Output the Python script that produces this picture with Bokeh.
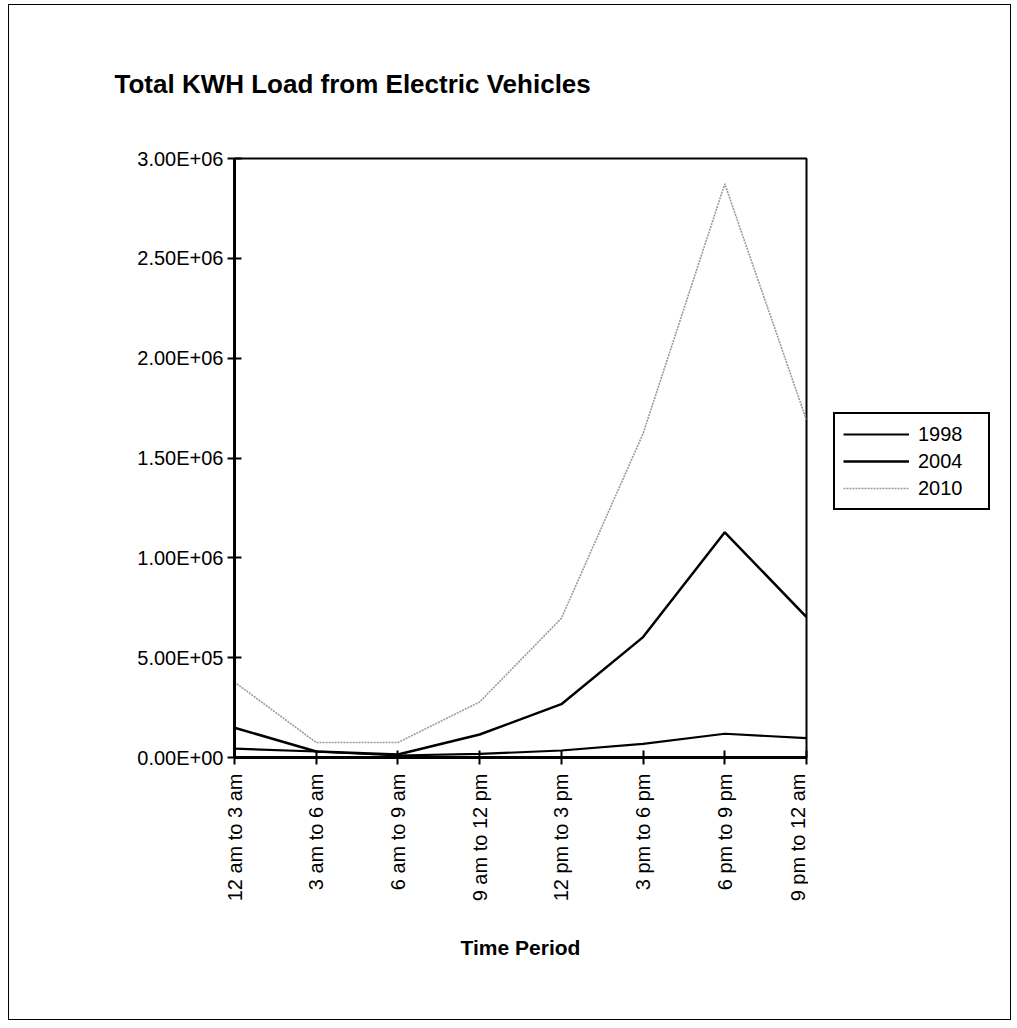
import math
from bokeh.plotting import figure
from bokeh.layouts import row
from bokeh.models import Range1d, FixedTicker, Legend, LegendItem, Title
from bokeh.embed import file_html
from bokeh.resources import INLINE

periods = ["12 am to 3 am", "3 am to 6 am", "6 am to 9 am", "9 am to 12 pm",
           "12 pm to 3 pm", "3 pm to 6 pm", "6 pm to 9 pm", "9 pm to 12 am"]
load_1998 = [44000, 30000, 10000, 18000, 35000, 68000, 119000, 97000]
load_2004 = [149000, 30000, 15000, 115000, 267000, 603000, 1128000, 703000]
load_2010 = [378000, 75000, 75000, 278000, 697000, 1622000, 2873000, 1690000]
y_ticks = [0, 500000, 1000000, 1500000, 2000000, 2500000, 3000000]
series_names = ["1998", "2004", "2010"]

FONT = "Liberation Sans"
xs = list(range(len(periods)))
series = [load_1998, load_2004, load_2010]
styles = [dict(line_color="black", line_width=2.2),
          dict(line_color="black", line_width=2.5),
          dict(line_color="#9a9a9a", line_width=1.6, line_dash="2 1")]

p = figure(width=799, height=1014, output_backend="svg", toolbar_location=None,
           x_range=Range1d(0, len(periods) - 1), y_range=Range1d(0, 3000000),
           min_border_left=225, min_border_right=2, min_border_top=153,
           min_border_bottom=262)

p.title = Title(text="Total KWH Load from Electric Vehicles", align="left",
                text_font=FONT, text_font_size="26px", text_font_style="bold",
                text_color="black", offset=-120, standoff=120)

p.xgrid.visible = False
p.ygrid.visible = False
p.outline_line_color = "black"
p.outline_line_width = 2

# y axis
p.yaxis.ticker = FixedTicker(ticks=y_ticks)
p.yaxis.major_label_overrides = {v: f"{v:.2E}" for v in y_ticks}
p.yaxis.major_label_text_font = FONT
p.yaxis.major_label_text_font_size = "20px"
p.yaxis.major_label_text_color = "black"
p.yaxis.axis_line_width = 3
p.yaxis.axis_line_color = "black"
p.yaxis.major_tick_in = 7
p.yaxis.major_tick_out = 7
p.yaxis.major_tick_line_width = 2
p.yaxis.minor_tick_line_color = None
p.yaxis.major_label_standoff = 4

# x axis
p.xaxis.ticker = FixedTicker(ticks=xs)
p.xaxis.major_label_overrides = {i: lab for i, lab in zip(xs, periods)}
p.xaxis.major_label_orientation = math.pi / 2
p.xaxis.major_label_text_font = FONT
p.xaxis.major_label_text_font_size = "20px"
p.xaxis.major_label_text_color = "black"
p.xaxis.axis_line_width = 3
p.xaxis.axis_line_color = "black"
p.xaxis.major_tick_in = 7
p.xaxis.major_tick_out = 7
p.xaxis.major_tick_line_width = 2
p.xaxis.minor_tick_line_color = None
p.xaxis.major_label_standoff = 9
p.xaxis.axis_label = "Time Period"
p.xaxis.axis_label_text_font = FONT
p.xaxis.axis_label_text_font_size = "21px"
p.xaxis.axis_label_text_font_style = "bold"
p.xaxis.axis_label_text_color = "black"
p.xaxis.axis_label_standoff = 32

for vals, st in zip(series, styles):
    p.line(xs, vals, **st)

# legend panel to the right of the plot area (its frame aligns with the main frame);
# the series lie outside this panel's visible range, only their legend glyphs show
lg = figure(width=202, height=1014, output_backend="svg", toolbar_location=None,
            x_range=Range1d(0, 1), y_range=Range1d(-2, -1),
            min_border_left=0, min_border_right=0, min_border_top=0,
            min_border_bottom=0)
lg.xaxis.visible = False
lg.yaxis.visible = False
lg.xgrid.visible = False
lg.ygrid.visible = False
lg.outline_line_color = None
items = []
for name, vals, st in zip(series_names, series, styles):
    r = lg.line(xs, vals, **st)
    items.append(LegendItem(label=name, renderers=[r]))

legend = Legend(items=items, location=(25, 247), orientation="vertical",
                label_text_font=FONT, label_text_font_size="20px",
                label_text_color="black",
                glyph_width=66, glyph_height=24, label_height=24, label_width=62,
                label_standoff=9, spacing=3, padding=8, margin=0,
                border_line_color="black", border_line_width=2,
                border_line_alpha=1.0,
                background_fill_color="white", background_fill_alpha=1)
lg.add_layout(legend, "center")

layout = row(p, lg)
layout.styles = {"border": "1px solid black", "margin-left": "8px",
                 "margin-top": "4px", "width": "fit-content"}

open("out.html", "w").write(file_html(layout, INLINE))
